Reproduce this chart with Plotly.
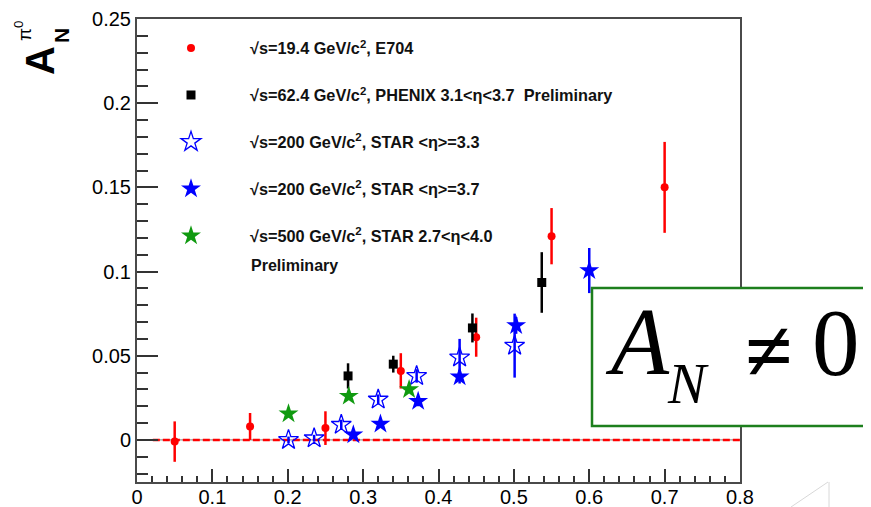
import plotly.graph_objects as go

# ---------------- data ----------------
e704_x = [0.05, 0.15, 0.25, 0.35, 0.45, 0.55, 0.70]
e704_y = [-0.001, 0.008, 0.007, 0.041, 0.061, 0.121, 0.150]
e704_err = [0.012, 0.008, 0.010, 0.0105, 0.0116, 0.0167, 0.027]

phenix_x = [0.28, 0.34, 0.445, 0.537]
phenix_y = [0.038, 0.045, 0.0665, 0.0935]
phenix_err = [0.0075, 0.005, 0.0086, 0.018]

star33_x = [0.201, 0.235, 0.271, 0.320, 0.371, 0.428, 0.501]
star33_y = [0.000, 0.001, 0.009, 0.024, 0.038, 0.049, 0.056]
star33_err = [0.002, 0.002, 0.003, 0.003, 0.004, 0.011, 0.019]

star37_x = [0.287, 0.323, 0.373, 0.428, 0.503, 0.600]
star37_y = [0.003, 0.0095, 0.023, 0.0375, 0.068, 0.1006]
star37_err = [0.002, 0.002, 0.003, 0.004, 0.005, 0.0134]

star500_x = [0.201, 0.281, 0.361]
star500_y = [0.0155, 0.026, 0.030]
star500_err = [0.002, 0.002, 0.002]

zero_x = [0.021, 0.8]
zero_y = [0.0, 0.0]

x_range = [0, 0.8]
y_range = [-0.025, 0.25]

names = [
    "√s=19.4 GeV/c<sup>2</sup>, E704",
    "√s=62.4 GeV/c<sup>2</sup>, PHENIX 3.1<η<3.7  Preliminary",
    "√s=200 GeV/c<sup>2</sup>, STAR <η>=3.3",
    "√s=200 GeV/c<sup>2</sup>, STAR <η>=3.7",
    "√s=500 GeV/c<sup>2</sup>, STAR 2.7<η<4.0",
]

# ---------------- geometry helpers ----------------
# the page body has an 8px margin, so the figure starts at (8, 8) of the window
OFF = 8
W, H = 871 - OFF, 507 - OFF
L, R, T, B = 137, 740, 19, 482   # plot frame in window pixels


def px(x):
    return (x - L) / (R - L)


def py(y):
    return (B - y) / (B - T)


RED = "#ff0000"
BLUE = "#0000ff"
GREEN = "#109a10"
BOXGREEN = "#1d7f1d"
SANS = "Liberation Sans, Arial"

fig = go.Figure()

# zero reference line (grey underlay + red dashed)
fig.add_trace(go.Scatter(x=zero_x, y=zero_y, mode="lines",
                         line=dict(color="#9a9a9a", width=1.2),
                         showlegend=False, hoverinfo="skip"))
fig.add_trace(go.Scatter(x=zero_x, y=zero_y, mode="lines",
                         line=dict(color=RED, width=2.5, dash="7px,3px"),
                         showlegend=False, hoverinfo="skip"))


def series(x, y, err, name, symbol, color, size, lw=0, group="g"):
    fig.add_trace(go.Scatter(
        x=x, y=y, mode="markers", name=name, legendgroup=group,
        marker=dict(symbol=symbol, color=color, size=size,
                    line=dict(color=color, width=lw)),
        error_y=dict(type="data", array=err, color=color, thickness=2.5, width=0),
    ))


series(e704_x, e704_y, e704_err, names[0], "circle", RED, 8, group="a")
series(phenix_x, phenix_y, phenix_err, names[1], "square", "black", 9, group="b")
series(star33_x, star33_y, star33_err, names[2], "star-open", BLUE, 15, lw=1.3, group="c")
series(star37_x, star37_y, star37_err, names[3], "star", BLUE, 15, group="d")
series(star500_x, star500_y, star500_err, names[4], "star", GREEN, 15, group="e")

axis_common = dict(showline=True, linecolor="#4a4a4a", linewidth=2, mirror=True,
                   showgrid=False, zeroline=False, ticks="inside", tickcolor="#333333",
                   tickwidth=1.5,
                   tickfont=dict(family=SANS, size=20, color="black"))

fig.update_xaxes(range=x_range, dtick=0.1, tick0=0, ticklen=13, ticklabelstandoff=-4,
                 minor=dict(dtick=0.02, ticklen=6, ticks="inside", tickcolor="#333333",
                            tickwidth=1.5),
                 **axis_common)
fig.update_yaxes(range=y_range, dtick=0.05, tick0=0, ticklen=21,
                 minor=dict(dtick=0.01, ticklen=11, ticks="inside", tickcolor="#333333",
                            tickwidth=1.5),
                 **axis_common)

annotations = []
# y axis title: A_N^{pi0}
annotations.append(dict(x=px(40), y=py(61), xref="paper", yref="paper", text="<b>A</b>",
                        textangle=-90, showarrow=False, xanchor="center", yanchor="middle",
                        font=dict(family=SANS, size=40, color="black")))
annotations.append(dict(x=px(62), y=py(36), xref="paper", yref="paper", text="<b>N</b>",
                        textangle=-90, showarrow=False, xanchor="center", yanchor="middle",
                        font=dict(family=SANS, size=21, color="black")))
annotations.append(dict(x=px(23), y=py(31), xref="paper", yref="paper", text="π<sup>0</sup>",
                        textangle=-90, showarrow=False, xanchor="center", yanchor="middle",
                        font=dict(family=SANS, size=19, color="black")))
# "Preliminary" line of last legend entry
annotations.append(dict(x=px(249), y=py(265), xref="paper", yref="paper",
                        text="<b>Preliminary</b>", showarrow=False,
                        xanchor="left", yanchor="middle",
                        font=dict(family=SANS, size=16, color="#111111")))
# A_N != 0 box text
serif = "Liberation Serif, Times New Roman, serif"
annotations.append(dict(x=px(603), y=py(342), xref="paper", yref="paper",
                        text="<i>A</i>", showarrow=False, xanchor="left", yanchor="middle",
                        font=dict(family=serif, size=95, color="black")))
annotations.append(dict(x=px(665), y=py(383), xref="paper", yref="paper",
                        text="<i>N</i>", showarrow=False, xanchor="left", yanchor="middle",
                        font=dict(family=serif, size=57, color="black")))
annotations.append(dict(x=px(768), y=py(351), xref="paper", yref="paper",
                        text="<b>≠</b>", showarrow=False, xanchor="center", yanchor="middle",
                        font=dict(family=serif, size=86, color="black")))
annotations.append(dict(x=px(836), y=py(343), xref="paper", yref="paper",
                        text="0", showarrow=False, xanchor="center", yanchor="middle",
                        font=dict(family=serif, size=95, color="black")))

shapes = [
    dict(type="rect", xref="paper", yref="paper", x0=px(592), x1=px(880),
         y0=py(426), y1=py(288), fillcolor="white",
         line=dict(color=BOXGREEN, width=2.5), layer="above"),
    dict(type="line", xref="paper", yref="paper", x0=px(791), y0=py(507),
         x1=px(828), y1=py(482), line=dict(color="#d8d8d8", width=1)),
    dict(type="line", xref="paper", yref="paper", x0=px(829), y0=py(482),
         x1=px(829), y1=py(507), line=dict(color="#d8d8d8", width=1)),
]

fig.update_layout(
    width=W, height=H,
    margin=dict(l=L - OFF, r=W - (R - OFF), t=T - OFF, b=H - (B - OFF), autoexpand=False),
    paper_bgcolor="white", plot_bgcolor="white",
    showlegend=True,
    legend=dict(x=px(132), y=py(31), xanchor="left", yanchor="top",
                bgcolor="rgba(0,0,0,0)", borderwidth=0,
                font=dict(family=SANS, size=16.3, color="#111111", weight="bold"),
                tracegroupgap=22.7, itemwidth=108, valign="middle",
                itemclick=False),
    annotations=annotations,
    shapes=shapes,
)

fig.write_html("out.html")
